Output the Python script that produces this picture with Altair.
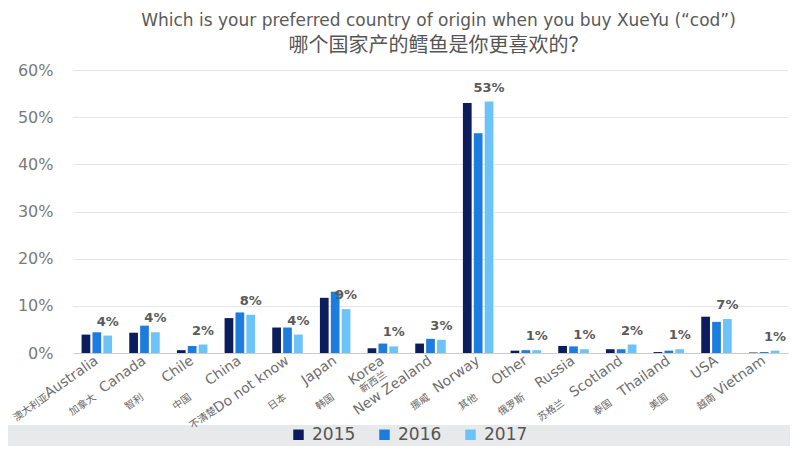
import altair as alt
import pandas as pd

countries = ["Australia", "Canada", "Chile", "China", "Do not know", "Japan", "Korea",
             "New Zealand", "Norway", "Other", "Russia", "Scotland", "Thailand", "USA", "Vietnam"]
countries_zh = ["澳大利亚", "加拿大", "智利", "中国", "不清楚", "日本", "韩国",
                "新西兰", "挪威", "其他", "俄罗斯", "苏格兰", "泰国", "美国", "越南"]
years = ["2015", "2016", "2017"]
v2015 = [3.9, 4.3, 0.6, 7.4, 5.4, 11.7, 1.0, 2.0, 53.0, 0.5, 1.5, 0.8, 0.2, 7.7, 0.1]
v2016 = [4.4, 5.8, 1.5, 8.6, 5.4, 13.0, 2.0, 3.0, 46.6, 0.6, 1.4, 0.8, 0.5, 6.6, 0.2]
v2017 = [3.7, 4.4, 1.8, 8.1, 3.9, 9.3, 1.4, 2.8, 53.3, 0.6, 0.8, 1.8, 0.8, 7.2, 0.5]
labels2017 = ["4%", "4%", "2%", "8%", "4%", "9%", "1%", "3%", "53%", "1%", "1%", "2%", "1%", "7%", "1%"]
yticks = [0, 0.1, 0.2, 0.3, 0.4, 0.5, 0.6]
colors = ["#0b1d5c", "#1c7ddf", "#6cc3f7"]

title_en = "Which is your preferred country of origin when you buy XueYu (\u201ccod\u201d)"
title_zh = "哪个国家产的鳕鱼是你更喜欢的？"

rows = []
for y, vals in zip(years, [v2015, v2016, v2017]):
    for c, v in zip(countries, vals):
        rows.append({"country": c, "year": y, "value": v / 100})
df = pd.DataFrame(rows)
lab_df = pd.DataFrame({"country": countries, "year": "2017",
                       "value": [v / 100 for v in v2017], "label": labels2017})
zh_df = pd.DataFrame({"country": countries, "zh": countries_zh})
band_df = pd.DataFrame({"k": [0]})

W, H = 715, 283

xenc = alt.X("country:N", sort=countries,
             scale=alt.Scale(domain=countries, paddingInner=0.36, paddingOuter=0.18),
             axis=alt.Axis(title=None, labelAngle=-35, labelAlign="right", labelBaseline="middle",
                           labelPadding=6, labelFontSize=14, labelColor="#6e6e6e",
                           labelFont="DejaVu Sans", ticks=False, domainColor="#cccccc",
                           labelOverlap=False, grid=False))
xoff = alt.XOffset("year:N", scale=alt.Scale(domain=years, paddingInner=0.2))
yenc = alt.Y("value:Q", scale=alt.Scale(domain=[0, 0.6], nice=False),
             axis=alt.Axis(values=yticks, format=".0%", title=None, ticks=False, domain=False,
                           labelPadding=20, labelFontSize=16, labelColor="#7a7a7a",
                           labelFont="DejaVu Sans", gridColor="#e6e6e6"))

band = alt.Chart(band_df).mark_rect(color="#e8e9eb").encode(
    x=alt.value(-65), x2=alt.value(W + 2), y=alt.value(H + 72), y2=alt.value(H + 95))

bars = alt.Chart(df).mark_bar().encode(
    x=xenc, xOffset=xoff, y=yenc,
    color=alt.Color("year:N", scale=alt.Scale(domain=years, range=colors),
                    legend=alt.Legend(orient="none", legendX=217, legendY=H + 73,
                                      direction="horizontal", title=None, symbolType="square",
                                      symbolSize=110, symbolStrokeWidth=0, labelFontSize=17,
                                      labelColor="#555555", labelFont="DejaVu Sans",
                                      columnPadding=20, labelOffset=5, padding=0)))

vals = alt.Chart(lab_df).mark_text(baseline="bottom", dy=-7, fontSize=13, fontWeight="bold",
                                   font="DejaVu Sans", color="#5a5a5a").encode(
    x=alt.X("country:N", sort=countries), xOffset=xoff, y="value:Q", text="label:N")

def zh_layer(cond, dx, dy):
    return alt.Chart(zh_df).transform_filter(cond).mark_text(
        angle=325, align="right", baseline="middle", dx=dx, dy=dy, fontSize=10,
        font="Noto Sans CJK SC", color="#666666").encode(
        x=alt.X("country:N", sort=countries), y=alt.value(H + 6), text="zh:N")

long_names = "indexof(['Scotland', 'Thailand'], datum.country) >= 0"
zh_main = zh_layer("datum.country != 'Do not know' && datum.country != 'New Zealand' && !(" + long_names + ")", -62, 2)
zh_long = zh_layer(long_names, -72, 2)
zh_dnk = zh_layer("datum.country == 'Do not know'", -88, 0)
zh_nz = zh_layer("datum.country == 'New Zealand'", -45, -14)

chart = alt.layer(band, bars, vals, zh_main, zh_long, zh_dnk, zh_nz).properties(
    width=W, height=H,
    autosize=alt.AutoSizeParams(type="none"),
    padding={"left": 65, "top": 62, "right": 2, "bottom": 93},
    title=alt.TitleParams(text=title_en, subtitle=title_zh, anchor="middle", dx=8,
                          fontSize=17, font="DejaVu Sans", fontWeight="normal", color="#5a5a5a",
                          subtitleFontSize=20, subtitleFont="Noto Sans CJK SC",
                          subtitleColor="#555555", subtitlePadding=6, offset=5)
).configure_view(stroke=None)

chart.save("out.html", embed_options={"renderer": "svg", "actions": False})
